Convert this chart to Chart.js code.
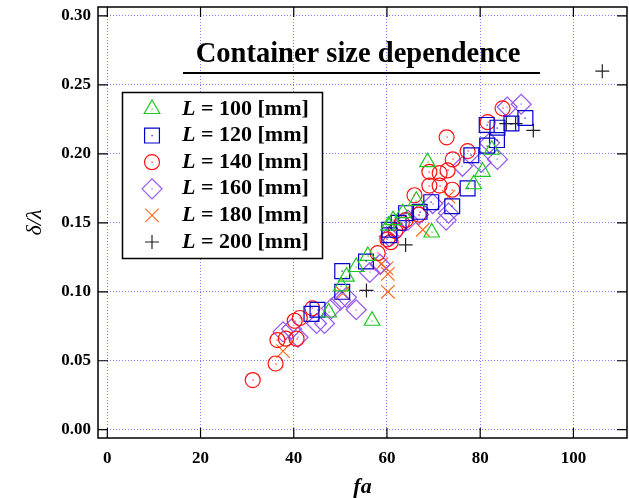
<!DOCTYPE html>
<html><head><meta charset="utf-8">
<script src="https://cdn.jsdelivr.net/npm/chart.js@4"></script>
<style>html,body{margin:0;padding:0;background:#fff;}canvas{display:block;}</style>
</head><body>
<canvas id="c" width="629" height="498"></canvas>
<script>
// ---- data (x = fa, y = delta/lambda) ----
const seriesLabels = ['100', '120', '140', '160', '180', '200'];
const xTicks = [0, 20, 40, 60, 80, 100];
const yTicks = [0, 0.05, 0.10, 0.15, 0.20, 0.25, 0.30];
const titleText = 'Container size dependence';

const L100 = [[47.5,0.085],[50.2,0.104],[51.3,0.111],[53.4,0.118],[55.9,0.126],[56.8,0.079],[60.3,0.148],[61.3,0.152],[63.4,0.157],[66.3,0.166],[68.7,0.194],[69.6,0.143],[78.6,0.178],[80.5,0.187],[82.5,0.203]];
const L120 = [[43.8,0.084],[45.1,0.087],[50.4,0.100],[50.4,0.115],[55.5,0.122],[60.5,0.141],[60.5,0.145],[62.5,0.150],[64.1,0.157],[67.0,0.158],[69.5,0.165],[74.0,0.162],[77.3,0.175],[78.1,0.199],[81.5,0.206],[83.6,0.210],[81.4,0.221],[83.7,0.219],[86.7,0.222],[89.7,0.226]];
const L140 = [[31.2,0.036],[36.1,0.048],[36.5,0.065],[38.3,0.066],[40.6,0.066],[40.2,0.079],[41.3,0.081],[44.0,0.088],[58.0,0.128],[60.1,0.138],[60.8,0.136],[61.8,0.144],[63.2,0.150],[64.0,0.152],[65.9,0.170],[66.8,0.156],[69.1,0.177],[69.1,0.187],[71.3,0.177],[71.3,0.186],[73.0,0.188],[74.0,0.174],[74.1,0.196],[72.8,0.212],[77.3,0.202],[81.6,0.223],[84.8,0.233]];
const L160 = [[37.7,0.071],[39.5,0.073],[40.9,0.067],[44.9,0.077],[46.6,0.077],[48.1,0.088],[50.0,0.094],[51.3,0.096],[53.4,0.087],[56.3,0.114],[58.5,0.120],[60.5,0.140],[62.0,0.145],[64.5,0.152],[66.8,0.156],[69.8,0.164],[73.2,0.157],[72.7,0.152],[76.2,0.191],[80.2,0.194],[83.7,0.196],[82.0,0.208],[85.8,0.234],[88.8,0.236]];
const L180 = [[37.7,0.057],[50.5,0.099],[58.8,0.120],[59.9,0.117],[60.2,0.113],[60.2,0.100],[67.7,0.145],[73.2,0.169]];
const L200 = [[55.6,0.101],[64.0,0.134],[85.6,0.222],[87.6,0.222],[91.4,0.217],[106.2,0.260]];

const allSeries = [L100, L120, L140, L160, L180, L200];
const colors = ['#1ec81e', '#0000cc', '#ff1010', '#9456f0', '#ff6a20', '#222222'];
const styles = ['triangle', 'rect', 'circle', 'rectRot', 'crossRot', 'cross'];
const radii = [9, 10.5, 7.5, 10, 9.5, 7];

const SERIF = '"Liberation Serif", "DejaVu Serif", serif';
const GRID = 'rgba(110,110,255,0.9)';

const datasets = allSeries.map((s, i) => ({
  label: 'L = ' + seriesLabels[i] + ' [mm]',
  data: s.map(p => ({x: p[0], y: p[1]})),
  pointStyle: styles[i],
  pointRadius: radii[i],
  pointBorderWidth: 1.2,
  borderColor: colors[i],
  pointBorderColor: colors[i],
  pointBackgroundColor: 'rgba(0,0,0,0)',
  showLine: false
}));

const framePlugin = {
  id: 'frame',
  afterDatasetsDraw(chart) {
    const ctx = chart.ctx;
    chart.data.datasets.forEach((ds, i) => {
      if (ds.pointStyle === 'cross' || ds.pointStyle === 'crossRot') return;
      const meta = chart.getDatasetMeta(i);
      ctx.fillStyle = ds.borderColor;
      meta.data.forEach(p => ctx.fillRect(Math.round(p.x) - 0.5, Math.round(p.y) - 0.5, 1.2, 1.2));
    });
  },
  afterDraw(chart) {
    const {ctx, chartArea: a, scales: {x, y}} = chart;
    ctx.save();
    // frame
    ctx.strokeStyle = '#000';
    ctx.lineWidth = 1.5;
    ctx.strokeRect(a.left, a.top, a.right - a.left, a.bottom - a.top);
    // inward ticks
    ctx.lineWidth = 1.2;
    ctx.beginPath();
    const TL = 10;
    x.ticks.forEach(t => {
      const px = x.getPixelForValue(t.value);
      ctx.moveTo(px, a.bottom); ctx.lineTo(px, a.bottom - TL);
      ctx.moveTo(px, a.top); ctx.lineTo(px, a.top + TL);
    });
    y.ticks.forEach(t => {
      const py = y.getPixelForValue(t.value);
      ctx.moveTo(a.left, py); ctx.lineTo(a.left + TL, py);
      ctx.moveTo(a.right, py); ctx.lineTo(a.right - TL, py);
    });
    ctx.stroke();

    // title inside plot
    ctx.fillStyle = '#000';
    ctx.font = 'bold 28.5px ' + SERIF;
    ctx.textAlign = 'center';
    ctx.textBaseline = 'alphabetic';
    ctx.fillText(titleText, 358, 62);
    ctx.lineWidth = 2;
    ctx.beginPath();
    ctx.moveTo(183, 73); ctx.lineTo(540, 73);
    ctx.stroke();

    // legend
    const bx = 122.5, by = 92.5, bw = 200, bh = 166;
    ctx.fillStyle = '#fff';
    ctx.fillRect(bx, by, bw, bh);
    ctx.strokeStyle = '#000';
    ctx.lineWidth = 1.5;
    ctx.strokeRect(bx, by, bw, bh);
    chart.data.datasets.forEach((ds, i) => {
      const cy = 109 + i * 26.6;
      ctx.strokeStyle = ds.borderColor;
      ctx.fillStyle = 'rgba(0,0,0,0)';
      ctx.lineWidth = 1.2;
      Chart.helpers.drawPoint(ctx, {pointStyle: ds.pointStyle, radius: ds.pointRadius, rotation: 0, borderWidth: 1.2}, 152, cy);
      if (ds.pointStyle !== 'cross' && ds.pointStyle !== 'crossRot') {
        ctx.fillStyle = ds.borderColor;
        ctx.fillRect(151.5, cy - 0.5, 1.2, 1.2);
      }
      ctx.fillStyle = '#000';
      ctx.textAlign = 'left';
      ctx.textBaseline = 'middle';
      ctx.font = 'italic bold 22px ' + SERIF;
      ctx.fillText('L', 182, cy);
      const w = ctx.measureText('L').width;
      ctx.font = 'bold 22px ' + SERIF;
      ctx.fillText(' = ' + seriesLabels[i] + ' [mm]', 182 + w, cy);
    });
    ctx.restore();
  }
};

const tickFont = {family: SERIF, size: 17, weight: 'bold'};

new Chart(document.getElementById('c'), {
  type: 'scatter',
  data: {datasets},
  options: {
    responsive: false,
    animation: false,
    devicePixelRatio: 1,
    layout: {autoPadding: false, padding: {top: 7, right: 2, left: 0, bottom: 0}},
    plugins: {legend: {display: false}, tooltip: {enabled: false}},
    scales: {
      x: {
        type: 'linear', min: -2, max: 111.5,
        afterBuildTicks: s => { s.ticks = xTicks.map(v => ({value: v})); },
        afterFit: s => { s.height = 60; s.paddingLeft = 0; s.paddingRight = 0; },
        grid: {color: GRID, lineWidth: 1, drawTicks: false},
        border: {display: false, dash: [1, 2]},
        ticks: {font: tickFont, color: '#000', padding: 10, maxRotation: 0, autoSkip: false, callback: v => String(v)},
        title: {display: true, text: 'fa', color: '#000', font: {family: SERIF, size: 22, style: 'italic', weight: 'bold', lineHeight: 1}, padding: {top: 0, bottom: 0}}
      },
      y: {
        type: 'linear', min: -0.006, max: 0.3065,
        afterBuildTicks: s => { s.ticks = yTicks.map(v => ({value: v})); },
        afterFit: s => { s.width = 98; s.paddingTop = 0; s.paddingBottom = 0; },
        grid: {color: GRID, lineWidth: 1, drawTicks: false},
        border: {display: false, dash: [1, 2]},
        ticks: {font: tickFont, color: '#000', padding: 7, autoSkip: false, callback: v => v.toFixed(2)},
        title: {display: true, text: 'δ/λ', color: '#000', font: {family: SERIF, size: 22, style: 'italic'}, padding: {top: 22, bottom: 0}}
      }
    }
  },
  plugins: [framePlugin]
});
</script>
</body></html>
